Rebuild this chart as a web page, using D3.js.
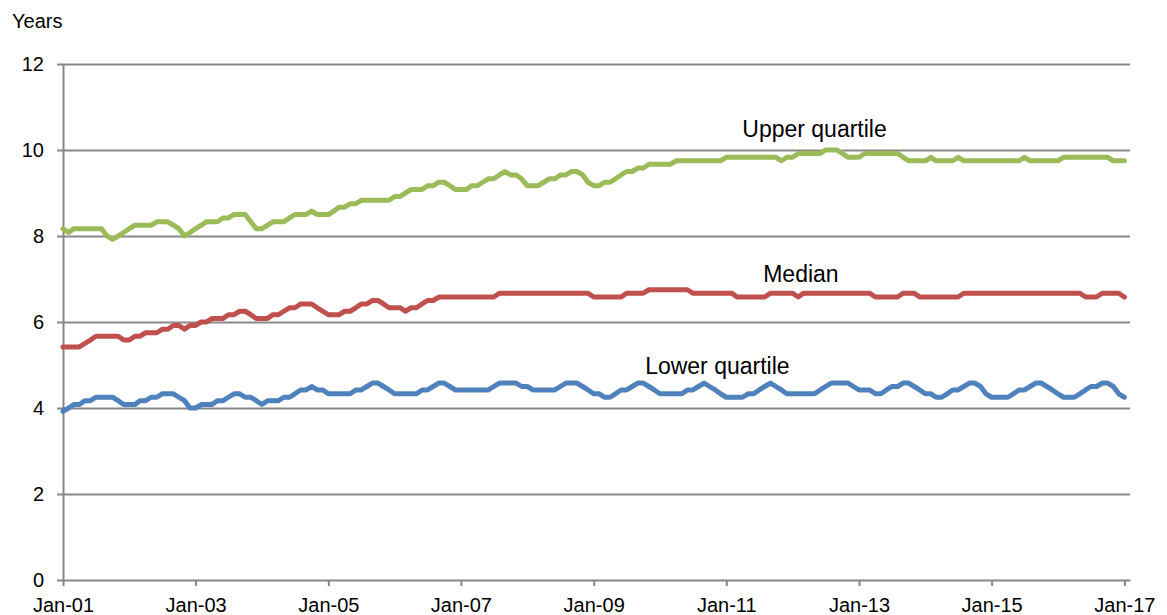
<!DOCTYPE html>
<html>
<head>
<meta charset="utf-8">
<script src="https://cdn.jsdelivr.net/npm/d3@7"></script>
<style>
  body{margin:0;background:#fff;}
  text{font-family:"Liberation Sans",Arial,sans-serif;fill:#000;}
</style>
</head>
<body>
<div class="canvas"></div>
<script>
// monthly series, Jan-01 .. Jan-17 (years)
const startYear=2001;
const upperQuartile=[
  8.17,8.08,8.17,8.17,8.17,8.17,8.17,8.17,8.0,7.92,8.0,8.08,
  8.17,8.25,8.25,8.25,8.25,8.33,8.33,8.33,8.25,8.17,8.0,8.08,
  8.17,8.25,8.33,8.33,8.33,8.42,8.42,8.5,8.5,8.5,8.33,8.17,
  8.17,8.25,8.33,8.33,8.33,8.42,8.5,8.5,8.5,8.58,8.5,8.5,
  8.5,8.58,8.67,8.67,8.75,8.75,8.83,8.83,8.83,8.83,8.83,8.83,
  8.92,8.92,9.0,9.08,9.08,9.08,9.17,9.17,9.25,9.25,9.17,9.08,
  9.08,9.08,9.17,9.17,9.25,9.33,9.33,9.42,9.5,9.42,9.42,9.33,
  9.17,9.17,9.17,9.25,9.33,9.33,9.42,9.42,9.5,9.5,9.42,9.25,
  9.17,9.17,9.25,9.25,9.33,9.42,9.5,9.5,9.58,9.58,9.67,9.67,
  9.67,9.67,9.67,9.75,9.75,9.75,9.75,9.75,9.75,9.75,9.75,9.75,
  9.83,9.83,9.83,9.83,9.83,9.83,9.83,9.83,9.83,9.83,9.75,9.83,
  9.83,9.92,9.92,9.92,9.92,9.92,10.0,10.0,10.0,9.92,9.83,9.83,
  9.83,9.92,9.92,9.92,9.92,9.92,9.92,9.92,9.83,9.75,9.75,9.75,
  9.75,9.83,9.75,9.75,9.75,9.75,9.83,9.75,9.75,9.75,9.75,9.75,
  9.75,9.75,9.75,9.75,9.75,9.75,9.83,9.75,9.75,9.75,9.75,9.75,
  9.75,9.83,9.83,9.83,9.83,9.83,9.83,9.83,9.83,9.83,9.75,9.75,
  9.75
];
const median=[
  5.42,5.42,5.42,5.42,5.5,5.58,5.67,5.67,5.67,5.67,5.67,5.58,
  5.58,5.67,5.67,5.75,5.75,5.75,5.83,5.83,5.92,5.92,5.83,5.92,
  5.92,6.0,6.0,6.08,6.08,6.08,6.17,6.17,6.25,6.25,6.17,6.08,
  6.08,6.08,6.17,6.17,6.25,6.33,6.33,6.42,6.42,6.42,6.33,6.25,
  6.17,6.17,6.17,6.25,6.25,6.33,6.42,6.42,6.5,6.5,6.42,6.33,
  6.33,6.33,6.25,6.33,6.33,6.42,6.5,6.5,6.58,6.58,6.58,6.58,
  6.58,6.58,6.58,6.58,6.58,6.58,6.58,6.67,6.67,6.67,6.67,6.67,
  6.67,6.67,6.67,6.67,6.67,6.67,6.67,6.67,6.67,6.67,6.67,6.67,
  6.58,6.58,6.58,6.58,6.58,6.58,6.67,6.67,6.67,6.67,6.75,6.75,
  6.75,6.75,6.75,6.75,6.75,6.75,6.67,6.67,6.67,6.67,6.67,6.67,
  6.67,6.67,6.58,6.58,6.58,6.58,6.58,6.58,6.67,6.67,6.67,6.67,
  6.67,6.58,6.67,6.67,6.67,6.67,6.67,6.67,6.67,6.67,6.67,6.67,
  6.67,6.67,6.67,6.58,6.58,6.58,6.58,6.58,6.67,6.67,6.67,6.58,
  6.58,6.58,6.58,6.58,6.58,6.58,6.58,6.67,6.67,6.67,6.67,6.67,
  6.67,6.67,6.67,6.67,6.67,6.67,6.67,6.67,6.67,6.67,6.67,6.67,
  6.67,6.67,6.67,6.67,6.67,6.58,6.58,6.58,6.67,6.67,6.67,6.67,
  6.58
];
const lowerQuartile=[
  3.92,4.0,4.08,4.08,4.17,4.17,4.25,4.25,4.25,4.25,4.17,4.08,
  4.08,4.08,4.17,4.17,4.25,4.25,4.33,4.33,4.33,4.25,4.17,4.0,
  4.0,4.08,4.08,4.08,4.17,4.17,4.25,4.33,4.33,4.25,4.25,4.17,
  4.08,4.17,4.17,4.17,4.25,4.25,4.33,4.42,4.42,4.5,4.42,4.42,
  4.33,4.33,4.33,4.33,4.33,4.42,4.42,4.5,4.58,4.58,4.5,4.42,
  4.33,4.33,4.33,4.33,4.33,4.42,4.42,4.5,4.58,4.58,4.5,4.42,
  4.42,4.42,4.42,4.42,4.42,4.42,4.5,4.58,4.58,4.58,4.58,4.5,
  4.5,4.42,4.42,4.42,4.42,4.42,4.5,4.58,4.58,4.58,4.5,4.42,
  4.33,4.33,4.25,4.25,4.33,4.42,4.42,4.5,4.58,4.58,4.5,4.42,
  4.33,4.33,4.33,4.33,4.33,4.42,4.42,4.5,4.58,4.5,4.42,4.33,
  4.25,4.25,4.25,4.25,4.33,4.33,4.42,4.5,4.58,4.5,4.42,4.33,
  4.33,4.33,4.33,4.33,4.33,4.42,4.5,4.58,4.58,4.58,4.58,4.5,
  4.42,4.42,4.42,4.33,4.33,4.42,4.5,4.5,4.58,4.58,4.5,4.42,
  4.33,4.33,4.25,4.25,4.33,4.42,4.42,4.5,4.58,4.58,4.5,4.33,
  4.25,4.25,4.25,4.25,4.33,4.42,4.42,4.5,4.58,4.58,4.5,4.42,
  4.33,4.25,4.25,4.25,4.33,4.42,4.5,4.5,4.58,4.58,4.5,4.33,
  4.25
];
const tickYears=[2001,2003,2005,2007,2009,2011,2013,2015,2017];
const yTicks=[0,2,4,6,8,10,12];
const seriesNames=['Upper quartile','Median','Lower quartile'];
const seriesColors=['#9BBB59','#C0504D','#4F81BD'];
// label anchor: [year, month, value]
const labelAnchors=[[2012,4,10.3],[2012,1.5,6.92],[2010,10.4,4.79]];

const width=1167, height=615;
const margin={top:64,right:37,bottom:35,left:63};
const graphWidth=width-margin.left-margin.right;
const graphHeight=height-margin.top-margin.bottom;

const svg=d3.select('.canvas')
  .append('svg')
    .attr('width',width)
    .attr('height',height);

const graph=svg.append('g')
  .attr('transform',`translate(${margin.left},${margin.top})`);

//scales
const x=d3.scaleTime()
  .domain([new Date(startYear,0,1),new Date(2017,1,1)])
  .range([0,graphWidth]);
const y=d3.scaleLinear()
  .domain([0,12])
  .range([graphHeight,0]);

const axisColor='#878787';

//gridlines
const grid=graph.append('g')
  .call(d3.axisLeft(y).tickValues(yTicks.filter(d=>d>0)).tickSize(-graphWidth).tickFormat(''));
grid.select('.domain').remove();
grid.selectAll('line').attr('stroke',axisColor).attr('stroke-width',2);

//axes
const xAxisGroup=graph.append('g')
  .attr('transform',`translate(0,${graphHeight})`)
  .call(d3.axisBottom(x)
    .tickValues(tickYears.map(yr=>new Date(yr,0,1)))
    .tickFormat(d3.timeFormat('Jan-%y'))
    .tickSize(6).tickSizeOuter(0).tickPadding(12));
const yAxisGroup=graph.append('g')
  .call(d3.axisLeft(y).tickValues(yTicks).tickSize(6).tickSizeOuter(0).tickPadding(13));

[xAxisGroup,yAxisGroup].forEach(g=>{
  g.select('.domain').attr('stroke',axisColor).attr('stroke-width',2);
  g.selectAll('line').attr('stroke',axisColor).attr('stroke-width',2);
  g.selectAll('text').attr('font-size',20).attr('fill','#000')
    .attr('font-family','"Liberation Sans",Arial,sans-serif');
});

//lines
const line=d3.line()
  .x((d,i)=>x(new Date(startYear,i,1)))
  .y(d=>y(d));

[upperQuartile,median,lowerQuartile].forEach((data,k)=>{
  graph.append('path')
    .datum(data)
    .attr('d',line)
    .attr('fill','none')
    .attr('stroke',seriesColors[k])
    .attr('stroke-width',5)
    .attr('stroke-linejoin','round')
    .attr('stroke-linecap','round');
});

//series labels
seriesNames.forEach((name,k)=>{
  const a=labelAnchors[k];
  const mon=Math.floor(a[1]);
  const dt=new Date(a[0],mon,1+Math.round((a[1]-mon)*30));
  graph.append('text')
    .attr('x',x(dt))
    .attr('y',y(a[2]))
    .attr('text-anchor','middle')
    .attr('font-size',23)
    .text(name);
});

//axis title
svg.append('text')
  .attr('x',12)
  .attr('y',28)
  .attr('font-size',20)
  .text('Years');
</script>
</body>
</html>
